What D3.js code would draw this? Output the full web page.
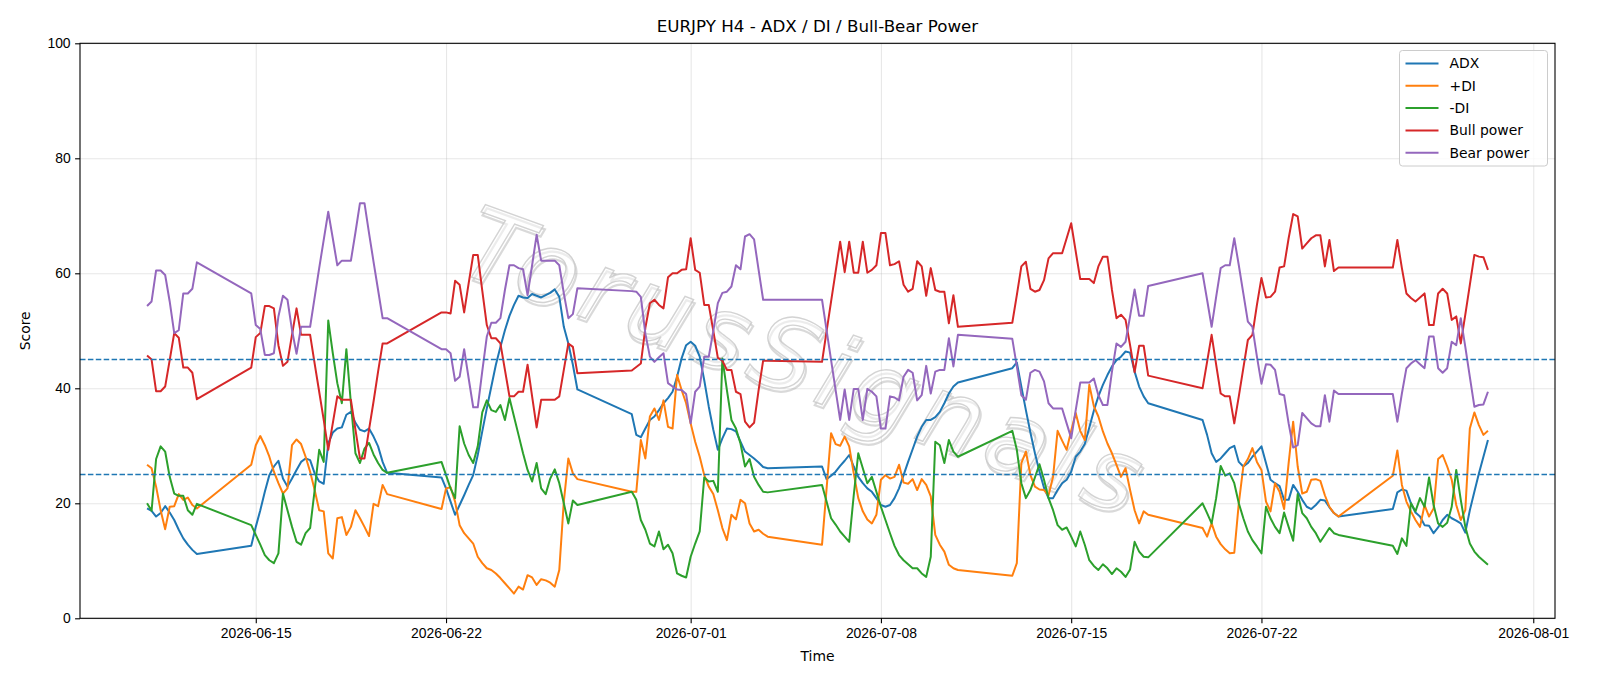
<!DOCTYPE html>
<html>
<head>
<meta charset="utf-8">
<script src="https://cdn.jsdelivr.net/npm/d3@7"></script>
<style>
  body { margin: 0; background: white; }
  svg { font-family: "DejaVu Sans", sans-serif; }
</style>
</head>
<body>
<div id="container"></div>
<script>
// EURJPY H4 - ADX / DI / Bull-Bear Power

// each session: time of first H4 bar and number of bars (gaps are the weekends)
const sessions = [
    ["2026-06-11T00:00:00Z", 12],
    ["2026-06-14T20:00:00Z", 31],
    ["2026-06-21T20:00:00Z", 31],
    ["2026-06-28T20:00:00Z", 31],
    ["2026-07-05T20:00:00Z", 31],
    ["2026-07-12T20:00:00Z", 31],
    ["2026-07-19T20:00:00Z", 31],
    ["2026-07-26T20:00:00Z", 22],
]

const adx = [
    19.1, 18.7, 17.7, 18.3, 19.5, 18.4, 17.1, 15.4, 13.9, 12.8, 11.9, 11.2,
    12.6, 15.9, 18.8, 22.0, 24.9, 26.4, 27.4, 24.3, 22.9, 24.3, 25.8, 27.2, 27.8, 27.5, 25.2, 23.8, 23.4, 30.4, 32.3, 33.0, 33.2, 35.4, 35.9, 34.0, 32.8, 32.5, 33.0, 31.6, 29.9, 27.2, 25.3,
    24.5, 22.6, 20.3, 18.0, 19.7, 21.4, 23.2, 24.9, 28.4, 32.5, 36.5, 40.3, 44.1, 47.2, 50.1, 52.6, 54.5, 56.1, 55.8, 55.7, 56.4, 56.1, 55.8, 56.2, 56.6, 57.2, 55.9, 50.7, 47.8, 44.1, 39.8,
    35.5, 31.9, 31.5, 33.0, 34.5, 35.1, 36.2, 37.4, 38.3, 39.4, 42.0, 45.2, 47.5, 48.1, 47.4, 45.5, 41.4, 36.8, 32.8, 29.3, 31.3, 33.0, 32.9, 32.5, 30.7, 29.0, 28.4, 27.8, 27.1, 26.3, 26.1,
    26.4, 24.2, 24.8, 25.5, 26.5, 27.4, 28.4, 26.4, 24.6, 23.5, 22.6, 22.0, 20.9, 19.7, 19.4, 19.7, 20.9, 22.6, 24.9, 27.2, 29.4, 31.6, 33.3, 34.5, 34.5, 35.0, 35.9, 37.4, 39.1, 40.3, 41.0,
    43.5, 44.5, 40.3, 36.2, 32.3, 28.7, 25.5, 22.7, 20.9, 20.9, 22.3, 23.5, 24.1, 25.5, 28.1, 29.0, 30.3, 33.2, 36.1, 38.6, 40.6, 42.3, 43.8, 44.9, 45.5, 46.4, 46.2, 42.9, 40.3, 38.6, 37.4,
    34.5, 31.9, 28.7, 27.2, 27.8, 28.7, 29.6, 30.0, 27.2, 26.4, 27.0, 28.1, 29.0, 29.9, 27.0, 24.1, 23.5, 23.0, 20.6, 20.6, 23.2, 22.0, 20.6, 19.4, 19.0, 19.7, 20.6, 20.5, 19.3, 18.3, 17.7,
    19.0, 21.9, 22.4, 22.2, 20.0, 18.4, 17.7, 16.2, 16.1, 14.8, 15.8, 17.1, 18.0, 17.4, 17.0, 16.5, 14.9, 18.8, 22.0, 25.2, 28.1, 31.0,
]

const plusDI = [
    26.7, 26.1, 22.9, 18.8, 15.5, 19.4, 19.5, 21.6, 20.6, 21.0, 19.7, 19.1,
    26.7, 30.1, 31.7, 30.1, 28.1, 25.5, 23.5, 21.7, 22.6, 30.1, 31.1, 30.3, 28.1, 25.5, 22.3, 18.8, 18.6, 11.3, 10.4, 17.4, 17.6, 14.5, 15.9, 18.8, 17.4, 15.9, 14.3, 19.9, 19.5, 23.2, 21.6,
    19.0, 22.6, 22.8, 20.3, 16.2, 14.8, 13.9, 13.0, 10.7, 9.6, 8.7, 8.4, 7.8, 7.0, 6.1, 5.2, 4.3, 5.5, 5.0, 7.5, 7.1, 5.8, 6.8, 6.6, 6.2, 5.5, 8.4, 20.3, 27.8, 25.2, 24.2,
    22.0, 22.0, 31.0, 27.8, 35.1, 36.5, 34.5, 37.9, 33.3, 33.0, 42.3, 39.7, 37.4, 33.9, 30.7, 28.1, 24.9, 22.9, 21.6, 18.8, 15.7, 13.6, 18.0, 17.2, 20.6, 20.0, 16.5, 15.1, 15.4, 14.7, 14.2,
    12.8, 22.5, 32.2, 30.3, 30.0, 31.6, 29.9, 25.2, 20.9, 18.6, 17.2, 16.5, 18.0, 24.1, 24.9, 24.3, 24.6, 26.7, 23.6, 23.4, 24.2, 22.3, 24.2, 23.2, 21.2, 14.5, 12.8, 11.6, 9.3, 8.7, 8.4,
    7.4, 9.6, 27.0, 29.0, 24.9, 22.9, 22.4, 22.3, 21.4, 24.6, 32.6, 30.9, 29.3, 32.6, 35.7, 32.6, 31.0, 40.6, 36.9, 35.1, 32.5, 30.4, 28.7, 26.7, 24.6, 26.1, 22.3, 18.8, 16.5, 18.6, 18.0,
    15.7, 14.2, 16.5, 14.2, 12.9, 12.0, 11.3, 11.4, 20.0, 26.4, 27.7, 29.6, 27.2, 25.8, 20.3, 18.6, 23.5, 22.0, 19.0, 27.0, 34.2, 26.4, 21.7, 22.0, 24.1, 24.2, 23.9, 21.4, 19.4, 18.3, 17.7,
    24.8, 29.2, 23.2, 20.3, 18.6, 17.1, 15.9, 19.7, 17.7, 19.1, 27.7, 28.4, 26.4, 24.1, 19.7, 17.1, 18.8, 33.0, 35.8, 33.6, 31.9, 32.6,
]

const minusDI = [
    20.0, 18.7, 27.7, 29.9, 29.0, 24.6, 21.7, 21.3, 21.3, 18.8, 18.0, 19.9,
    16.2, 14.5, 12.8, 11.0, 10.1, 9.6, 11.3, 21.7, 18.8, 15.9, 13.3, 12.8, 14.8, 15.7, 22.3, 29.3, 27.2, 51.8, 46.1, 40.9, 37.4, 46.8, 37.4, 28.7, 27.0, 29.5, 30.5, 28.5, 27.0, 25.8, 25.3,
    27.2, 24.9, 22.6, 20.9, 33.4, 30.4, 28.4, 27.0, 29.9, 35.8, 37.9, 36.2, 35.9, 37.1, 34.5, 38.3, 35.1, 31.9, 28.7, 25.8, 23.8, 27.0, 22.6, 21.6, 24.3, 25.9, 23.5, 20.0, 16.5, 20.5, 19.7,
    22.0, 20.6, 17.1, 15.4, 13.0, 12.5, 15.1, 12.0, 12.8, 11.3, 7.8, 7.4, 7.1, 10.7, 13.0, 15.1, 24.5, 23.8, 23.9, 22.0, 45.2, 39.7, 34.5, 33.0, 30.4, 26.4, 27.7, 24.6, 23.2, 22.0, 21.9,
    23.2, 20.3, 17.4, 16.3, 15.1, 14.2, 13.3, 21.4, 28.7, 26.1, 23.5, 24.6, 22.0, 19.4, 17.1, 14.8, 12.6, 11.0, 10.1, 9.4, 8.7, 8.7, 7.8, 7.2, 10.7, 30.7, 30.1, 27.0, 31.0, 29.0, 28.1,
    32.6, 29.3, 23.5, 20.9, 22.3, 24.5, 26.8, 24.1, 20.9, 18.8, 16.2, 15.4, 15.8, 14.2, 12.5, 15.1, 12.8, 10.1, 9.1, 8.4, 9.4, 8.7, 7.7, 8.7, 8.1, 7.2, 8.5, 13.3, 11.6, 10.7, 10.6,
    20.0, 18.3, 16.5, 20.9, 26.5, 24.8, 25.2, 23.5, 20.0, 17.4, 15.1, 13.6, 12.5, 11.3, 19.4, 17.4, 15.9, 14.8, 18.4, 15.9, 13.5, 21.6, 18.3, 17.4, 15.9, 14.8, 13.3, 14.5, 15.7, 14.8, 14.5,
    12.6, 11.2, 13.9, 12.6, 20.0, 18.6, 20.9, 19.4, 24.5, 19.7, 16.5, 15.9, 16.6, 19.4, 25.8, 20.6, 15.9, 13.0, 11.6, 10.7, 10.0, 9.3,
]

const bullPower = [
    45.7, 45.0, 39.5, 39.5, 40.3, 44.9, 49.6, 48.8, 43.6, 43.6, 42.7, 38.1,
    43.6, 48.9, 49.6, 54.3, 54.3, 53.9, 47.5, 43.9, 44.6, 49.3, 53.9, 49.3, 49.3, 49.3, 44.3, 39.4, 34.5, 29.3, 33.9, 38.6, 38.0, 38.0, 38.0, 32.8, 27.8, 27.8, 32.8, 37.7, 42.9, 47.8, 47.8,
    53.2, 53.2, 53.0, 58.7, 58.0, 53.2, 58.3, 63.2, 63.2, 57.0, 51.0, 48.7, 48.7, 47.8, 43.2, 38.6, 38.6, 39.4, 39.4, 44.1, 38.6, 33.2, 38.0, 38.0, 38.0, 38.0, 38.6, 43.2, 47.8, 47.2, 42.6,
    43.1, 43.7, 44.3, 50.5, 54.8, 55.4, 54.5, 53.9, 59.3, 60.0, 60.0, 60.6, 60.7, 66.1, 60.6, 60.1, 54.5, 54.5, 50.0, 45.3, 44.8, 43.2, 43.2, 39.4, 39.0, 34.2, 33.2, 34.0, 39.7, 44.8, 44.8,
    44.6, 49.9, 55.1, 60.3, 65.5, 60.2, 65.5, 60.1, 60.1, 65.5, 60.1, 60.6, 61.4, 67.0, 67.0, 61.4, 61.6, 62.1, 58.0, 56.8, 57.3, 62.1, 61.2, 56.1, 60.9, 57.1, 56.8, 56.8, 51.3, 56.2, 50.7,
    51.4, 56.2, 61.2, 62.0, 57.3, 56.8, 57.1, 58.8, 62.6, 63.5, 63.5, 63.5, 66.1, 68.7, 63.8, 59.0, 59.0, 59.0, 58.3, 61.2, 62.9, 62.9, 57.1, 52.2, 52.8, 51.9, 47.5, 42.8, 47.4, 47.4, 42.2,
    40.0, 44.6, 49.3, 44.1, 39.1, 38.6, 38.6, 33.9, 38.6, 43.5, 48.4, 49.3, 54.5, 59.2, 55.8, 55.9, 56.8, 61.0, 61.2, 66.1, 70.3, 69.9, 64.3, 65.2, 66.1, 66.6, 66.6, 61.2, 65.8, 60.4, 61.0,
    61.0, 65.8, 60.9, 56.5, 55.7, 55.1, 55.8, 56.5, 51.0, 51.0, 56.5, 57.3, 56.5, 51.9, 52.5, 47.8, 52.8, 58.0, 63.2, 62.9, 62.8, 60.6,
]

const bearPower = [
    54.3, 55.1, 60.5, 60.5, 59.7, 55.1, 49.6, 50.1, 56.5, 56.5, 57.3, 61.9,
    56.5, 51.0, 50.3, 45.8, 45.8, 46.1, 52.5, 56.1, 55.4, 50.1, 46.0, 50.7, 50.7, 50.7, 55.8, 60.9, 65.8, 70.7, 66.1, 61.4, 62.2, 62.2, 62.2, 67.1, 72.2, 72.2, 67.0, 62.0, 57.1, 52.2, 52.2,
    46.8, 46.8, 46.1, 41.3, 42.0, 46.8, 41.7, 36.7, 36.7, 43.0, 49.0, 51.4, 51.4, 52.2, 57.1, 61.4, 61.4, 60.9, 60.7, 56.2, 61.4, 66.7, 62.2, 62.2, 62.2, 62.2, 61.4, 56.5, 52.2, 52.9, 57.4,
    56.9, 56.8, 55.9, 49.5, 45.5, 44.6, 45.4, 46.1, 40.9, 40.3, 39.8, 39.7, 39.0, 33.9, 39.4, 40.3, 45.5, 45.5, 50.0, 54.8, 56.6, 56.8, 57.7, 61.4, 60.7, 66.4, 66.8, 65.9, 60.6, 55.4, 55.4,
    55.4, 50.1, 44.9, 39.7, 34.5, 39.8, 34.5, 39.9, 39.9, 34.5, 39.9, 39.4, 38.6, 33.0, 33.0, 38.6, 38.4, 37.9, 42.0, 43.2, 42.7, 37.9, 38.8, 43.9, 39.1, 42.9, 43.2, 43.2, 48.7, 43.8, 49.3,
    48.6, 43.8, 38.8, 38.0, 42.7, 43.2, 42.9, 41.2, 37.4, 36.5, 36.5, 36.5, 33.9, 31.3, 36.2, 41.0, 41.0, 41.0, 41.7, 38.8, 37.1, 37.1, 42.9, 47.8, 47.2, 48.1, 52.5, 57.2, 52.6, 52.6, 57.8,
    60.0, 55.4, 50.7, 55.9, 60.9, 61.4, 61.4, 66.1, 61.4, 56.5, 51.6, 50.7, 45.5, 40.8, 44.2, 44.1, 43.2, 39.0, 38.8, 33.9, 29.7, 30.1, 35.7, 34.8, 33.9, 33.4, 33.4, 38.8, 34.2, 39.6, 39.0,
    39.0, 34.2, 39.1, 43.5, 44.3, 44.9, 44.2, 43.5, 49.0, 49.0, 43.5, 42.7, 43.5, 48.1, 47.5, 52.2, 47.2, 42.0, 36.8, 37.1, 37.2, 39.4,
]

const seriesNames = ["ADX", "+DI", "-DI", "Bull power", "Bear power"]
const levels = [45, 25]
const yTicks = [0, 20, 40, 60, 80, 100]
const xTicks = ["2026-06-15", "2026-06-22", "2026-07-01", "2026-07-08", "2026-07-15", "2026-07-22", "2026-08-01"]

const colors = ["#1f77b4", "#ff7f0e", "#2ca02c", "#d62728", "#9467bd"]

const width = 1600,
    height = 686
const margin = {
    top: 43.3,
    right: 45,
    bottom: 67.7,
    left: 80,
}

// bar times
const times = []
sessions.forEach(([start, n]) => {
    const t0 = new Date(start).getTime()
    for (let i = 0; i < n; i++) times.push(new Date(t0 + i * 4 * 3600 * 1000))
})

const svg = d3.select("#container").append("svg")
    .attr("width", width)
    .attr("height", height)
    .style("background", "white")

const [tMin, tMax] = d3.extent(times)
const pad = (tMax - tMin) * 0.05
const x = d3.scaleUtc()
    .domain([new Date(+tMin - pad), new Date(+tMax + pad)])
    .range([margin.left, width - margin.right])
const y = d3.scaleLinear()
    .domain([0, 100])
    .range([height - margin.bottom, margin.top])

const plotW = width - margin.left - margin.right
const plotH = height - margin.top - margin.bottom

// grid
svg.append("g")
    .attr("transform", `translate(0,${height - margin.bottom})`)
    .call(d3.axisBottom(x).tickValues(xTicks.map(d => new Date(d + "T00:00:00Z"))).tickSize(-plotH).tickFormat(""))
    .call(g => g.select(".domain").remove())
    .selectAll("line").attr("stroke", "#b0b0b0").attr("stroke-opacity", 0.3).attr("stroke-width", 1.1)

svg.append("g")
    .attr("transform", `translate(${margin.left},0)`)
    .call(d3.axisLeft(y).tickValues(yTicks).tickSize(-plotW).tickFormat(""))
    .call(g => g.select(".domain").remove())
    .selectAll("line").attr("stroke", "#b0b0b0").attr("stroke-opacity", 0.3).attr("stroke-width", 1.1)

// watermark
const wm = svg.append("g")
    .attr("transform", `translate(806,362) rotate(20)`)
    .style("font-size", "100px")
    .style("font-style", "italic")
    .style("letter-spacing", "8px")
    .attr("text-anchor", "middle")
    .attr("dominant-baseline", "central")
wm.append("text")
    .attr("x", 2.5).attr("y", 3)
    .attr("fill", "none")
    .attr("stroke", "#a0a0a0")
    .attr("stroke-width", 2.2)
    .attr("stroke-opacity", 0.4)
    .text("TorusSignals")
wm.append("text")
    .attr("fill", "white")
    .attr("fill-opacity", 0.5)
    .attr("stroke", "#c8c8c8")
    .attr("stroke-width", 1.4)
    .attr("stroke-opacity", 0.8)
    .text("TorusSignals")

// lines
const line = d3.line()
    .x((d, i) => x(times[i]))
    .y(d => y(d))

const allSeries = [adx, plusDI, minusDI, bullPower, bearPower]
allSeries.forEach((values, i) => {
    svg.append("path")
        .datum(values)
        .attr("fill", "none")
        .attr("stroke", colors[i])
        .attr("stroke-width", 2)
        .attr("stroke-linejoin", "round")
        .attr("d", line)
})

// threshold levels
svg.selectAll(".level")
    .data(levels)
    .enter()
    .append("line")
    .attr("class", "level")
    .attr("x1", margin.left)
    .attr("x2", width - margin.right)
    .attr("y1", d => y(d))
    .attr("y2", d => y(d))
    .attr("stroke", "#1f77b4")
    .attr("stroke-width", 1.5)
    .attr("stroke-dasharray", "5.5,2.4")

// axes
const xAxis = svg.append("g")
    .attr("transform", `translate(0,${height - margin.bottom})`)
    .call(d3.axisBottom(x)
        .tickValues(xTicks.map(d => new Date(d + "T00:00:00Z")))
        .tickFormat(d3.utcFormat("%Y-%m-%d"))
        .tickSize(4.9)
        .tickPadding(4.5))
xAxis.select(".domain").remove()
xAxis.selectAll("text").style("font-size", "13.9px").attr("fill", "black")
xAxis.selectAll("line").attr("stroke", "black").attr("stroke-width", 1.1)

const yAxis = svg.append("g")
    .attr("transform", `translate(${margin.left},0)`)
    .call(d3.axisLeft(y).tickValues(yTicks).tickSize(4.9).tickPadding(4.5))
yAxis.select(".domain").remove()
yAxis.selectAll("text").style("font-size", "13.9px").attr("fill", "black")
yAxis.selectAll("line").attr("stroke", "black").attr("stroke-width", 1.1)

svg.append("rect")
    .attr("x", margin.left)
    .attr("y", margin.top)
    .attr("width", plotW)
    .attr("height", plotH)
    .attr("fill", "none")
    .attr("stroke", "black")
    .attr("stroke-width", 1.1)

// titles
svg.append("text")
    .attr("x", margin.left + plotW / 2)
    .attr("y", 32)
    .attr("text-anchor", "middle")
    .style("font-size", "16.7px")
    .text("EURJPY H4 - ADX / DI / Bull-Bear Power")

svg.append("text")
    .attr("x", margin.left + plotW / 2)
    .attr("y", 661)
    .attr("text-anchor", "middle")
    .style("font-size", "13.9px")
    .text("Time")

svg.append("text")
    .attr("transform", `translate(30,${margin.top + plotH / 2}) rotate(-90)`)
    .attr("text-anchor", "middle")
    .style("font-size", "13.9px")
    .text("Score")

// legend
const legend = svg.append("g").attr("id", "legend")
    .attr("transform", "translate(1399.5,50.5)")
legend.append("rect")
    .attr("width", 148)
    .attr("height", 115.5)
    .attr("rx", 3)
    .attr("fill", "white")
    .attr("fill-opacity", 0.8)
    .attr("stroke", "#cccccc")

seriesNames.forEach((name, i) => {
    const row = legend.append("g").attr("transform", `translate(0,${13 + i * 22.3})`)
    row.append("line")
        .attr("x1", 6).attr("x2", 39)
        .attr("stroke", colors[i])
        .attr("stroke-width", 2)
    row.append("text")
        .attr("x", 50)
        .attr("dy", "0.35em")
        .style("font-size", "13.9px")
        .text(name)
})
</script>
</body>
</html>
